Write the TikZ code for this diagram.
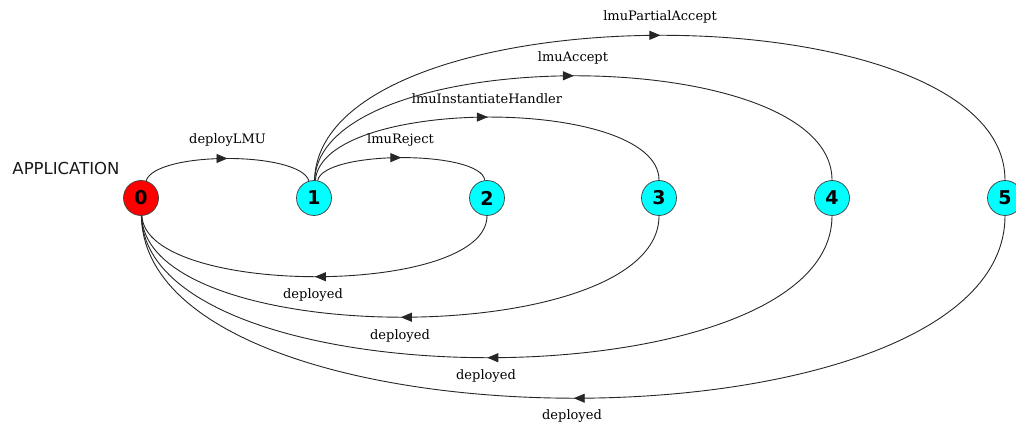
\documentclass[tikz,border=0pt]{standalone}
\usepackage{fontspec}
\setmainfont{DejaVu Serif}
\newfontfamily\numfont{DejaVu Sans}
\usetikzlibrary{arrows.meta,decorations.markings}
\definecolor{stred}{HTML}{FF0000}
\definecolor{stcyan}{HTML}{00FFFF}
\begin{document}
\begin{tikzpicture}[x=1pt,y=1pt,
  st/.style={circle,draw=black!75,line width=0.7pt,minimum size=35pt,inner sep=0pt,
    font=\numfont\bfseries\fontsize{19}{19}\selectfont},
  edge/.style={draw=black!85,line width=0.9pt,postaction={decorate},
    decoration={markings,mark=at position 0.5 with {\arrow{Triangle[length=11pt,width=9pt]}}}},
  lab/.style={font=\fontsize{13}{14}\selectfont,inner sep=0pt}]
\useasboundingbox (0,0) rectangle (1016,426);
% states
\node[st,fill=stred]  (n0) at (141,228) {0};
\node[st,fill=stcyan] (n1) at (314,228) {1};
\node[st,fill=stcyan] (n2) at (487,228) {2};
\node[st,fill=stcyan] (n3) at (659,228) {3};
\node[st,fill=stcyan] (n4) at (832,228) {4};
\node[st,fill=stcyan] (n5) at (1005,228) {5};
\node[font=\numfont\fontsize{16.5}{17}\selectfont,inner sep=0pt,text=black!90] (app) at (66,258) {APPLICATION};
% labels
\node[lab] (l01) at (227.5,286) {deployLMU};
\node[lab] (l12) at (400.5,286) {lmuReject};
\node[lab] (l13) at (487,327) {lmuInstantiateHandler};
\node[lab] (l14) at (573,368) {lmuAccept};
\node[lab] (l15) at (660,409) {lmuPartialAccept};
\node[lab] (l20) at (313,131) {deployed};
\node[lab] (l30) at (400,90) {deployed};
\node[lab] (l40) at (486,49.5) {deployed};
\node[lab] (l50) at (572,10) {deployed};
% forward edges
\draw[edge] (n0) .. controls +(14,47) and +(-14,47) .. (n1);
\draw[edge] (n1) .. controls +(10,48) and +(-6,48) .. (n2);
\draw[edge] (n1) .. controls +(8,102) and +(0,102) .. (n3);
\draw[edge] (n1) .. controls +(6,157) and +(0,157) .. (n4);
\draw[edge] (n1) .. controls +(6,211) and +(0,211) .. (n5);
% back edges
\draw[edge] (n2) .. controls +(0,-99) and +(5,-99) .. (n0);
\draw[edge] (n3) .. controls +(0,-153) and +(5,-153) .. (n0);
\draw[edge] (n4) .. controls +(0,-207) and +(5,-207) .. (n0);
\draw[edge] (n5) .. controls +(0,-261) and +(5,-261) .. (n0);
\end{tikzpicture}
\end{document}
